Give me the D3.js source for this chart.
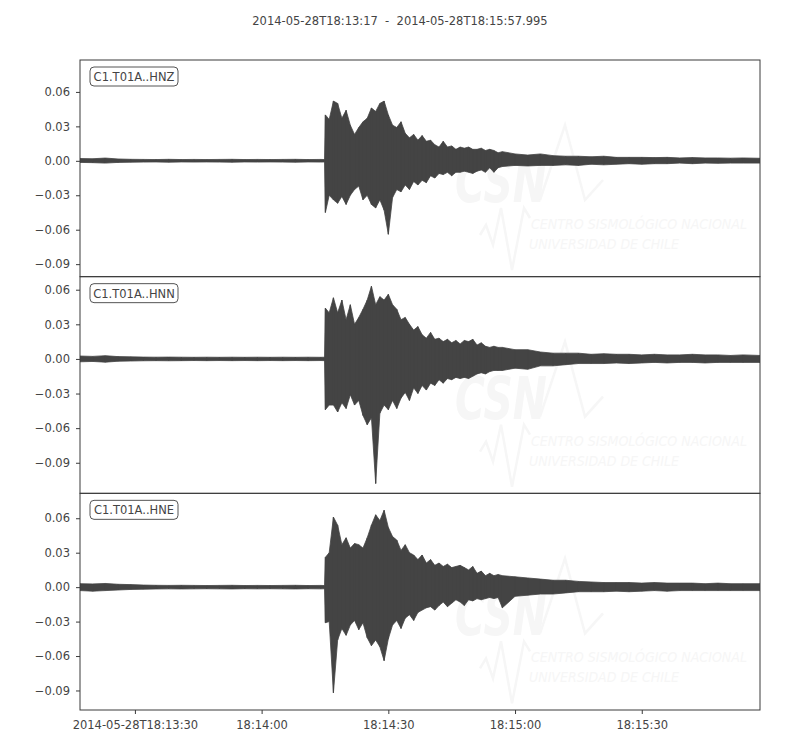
<!DOCTYPE html>
<meta charset="utf-8">
<style>
body { margin: 0; background: #fff; }
text { font-family: "DejaVu Sans", sans-serif; }
</style>
<svg width="800" height="750"></svg>
<script src="https://d3js.org/d3.v7.min.js"></script>
<script>
// ---- data ----
var title = "2014-05-28T18:13:17  -  2014-05-28T18:15:57.995";
var channels = ["C1.T01A..HNZ", "C1.T01A..HNN", "C1.T01A..HNE"];
var startTime = new Date(Date.UTC(2014, 4, 28, 18, 13, 17));
var duration = 160.995; // seconds
var xTickSeconds = [13, 43, 73, 103, 133];
var xTickLabels = ["2014-05-28T18:13:30", "18:14:00", "18:14:30", "18:15:00", "18:15:30"];
var yTicks = [-0.09, -0.06, -0.03, 0, 0.03, 0.06];
var yLimits = [[-0.1009, 0.0878], [-0.1165, 0.0713], [-0.1070, 0.0817]];

// seconds after start, envelope (max / min) of each trace
var times = [0,3,6,9,12,15,18,21,24,27,30,33,36,39,42,45,48,51,54,57,57.9,58.1,
  59,60,61,62,63,64,65,66,67,68,69,70,71,72,73,74,75,76,77,78,79,80,81,82,83,84,85,86,87,88,89,90,
  91,92,93,94,95,96,97,98,99,100,
  103,106,109,112,115,118,121,124,127,130,133,136,139,142,145,148,151,154,157,160.99];

var hnzMax = [0.0020,0.0018,0.0024,0.0016,0.0013,0.0012,0.0011,0.0013,0.0011,0.0012,0.0011,0.0012,0.0013,0.0011,0.0012,0.0011,0.0012,0.0013,0.0011,0.0012,0.0011,
  0.040,
  0.036,0.052,0.050,0.037,0.044,0.031,0.023,0.029,0.034,0.037,0.046,0.043,0.050,0.052,0.040,0.031,0.029,0.034,0.024,0.020,0.023,0.018,
  0.022,0.017,0.018,0.014,0.012,0.017,0.012,0.013,0.010,0.012,0.011,0.012,0.010,0.010,0.011,0.009,0.010,0.009,0.007,0.008,
  0.006,0.005,0.006,0.0045,0.004,0.004,0.0035,0.004,0.003,0.003,0.003,0.0028,0.003,0.0025,0.0028,0.0025,0.0025,0.0023,0.0025,
  0.0022];
var hnzMin = [-0.0014,-0.0016,-0.0020,-0.0014,-0.0012,-0.0011,-0.0010,-0.0012,-0.0010,-0.0011,-0.0010,-0.0011,-0.0012,-0.0010,-0.0011,-0.0010,-0.0011,-0.0012,-0.0010,-0.0011,-0.0010,
  -0.045,
  -0.030,-0.034,-0.037,-0.031,-0.038,-0.030,-0.025,-0.022,-0.034,-0.030,-0.038,-0.041,-0.034,-0.043,-0.064,-0.032,-0.025,-0.027,-0.021,-0.025,-0.018,-0.021,
  -0.017,-0.019,-0.013,-0.015,-0.011,-0.012,-0.010,-0.013,-0.010,-0.010,-0.009,-0.010,-0.011,-0.009,-0.008,-0.010,-0.006,-0.010,-0.006,-0.005,
  -0.004,-0.0045,-0.004,-0.004,-0.0035,-0.004,-0.003,-0.0035,-0.003,-0.0025,-0.003,-0.0025,-0.0025,-0.002,-0.0025,-0.002,-0.0022,-0.002,-0.002,
  -0.002];

var hnnMax = [0.0025,0.0022,0.0028,0.0020,0.0018,0.0016,0.0015,0.0016,0.0015,0.0014,0.0015,0.0014,0.0015,0.0014,0.0015,0.0014,0.0015,0.0014,0.0015,0.0014,0.0015,
  0.044,
  0.040,0.053,0.040,0.051,0.034,0.047,0.030,0.036,0.043,0.051,0.063,0.047,0.054,0.051,0.056,0.047,0.043,0.034,0.036,0.030,0.025,0.028,
  0.021,0.018,0.023,0.017,0.018,0.015,0.017,0.014,0.016,0.013,0.016,0.015,0.017,0.012,0.014,0.011,0.010,0.011,0.010,0.010,
  0.008,0.008,0.006,0.005,0.005,0.005,0.004,0.0045,0.004,0.004,0.0035,0.004,0.0035,0.0035,0.004,0.0035,0.0035,0.003,0.0035,
  0.003];
var hnnMin = [-0.0025,-0.0022,-0.0028,-0.0020,-0.0018,-0.0016,-0.0015,-0.0016,-0.0015,-0.0014,-0.0015,-0.0014,-0.0015,-0.0014,-0.0015,-0.0014,-0.0015,-0.0014,-0.0015,-0.0014,-0.0015,
  -0.044,
  -0.040,-0.040,-0.046,-0.038,-0.043,-0.031,-0.040,-0.036,-0.049,-0.057,-0.051,-0.108,-0.047,-0.040,-0.044,-0.036,-0.043,-0.034,-0.029,-0.036,-0.025,-0.030,
  -0.023,-0.027,-0.021,-0.023,-0.018,-0.021,-0.017,-0.018,-0.016,-0.017,-0.016,-0.017,-0.015,-0.013,-0.012,-0.013,-0.011,-0.010,-0.010,-0.010,
  -0.008,-0.009,-0.006,-0.006,-0.005,-0.004,-0.004,-0.004,-0.0035,-0.004,-0.0035,-0.003,-0.0035,-0.003,-0.003,-0.0035,-0.003,-0.003,-0.003,
  -0.003];

var hneMax = [0.0030,0.0028,0.0032,0.0025,0.0022,0.0018,0.0016,0.0015,0.0016,0.0015,0.0014,0.0015,0.0016,0.0014,0.0015,0.0014,0.0015,0.0016,0.0014,0.0015,0.0014,
  0.026,
  0.030,0.061,0.054,0.037,0.043,0.034,0.038,0.037,0.034,0.043,0.054,0.063,0.058,0.067,0.052,0.044,0.041,0.032,0.037,0.030,0.028,0.024,
  0.028,0.021,0.024,0.019,0.021,0.018,0.020,0.017,0.018,0.019,0.017,0.015,0.018,0.012,0.014,0.010,0.012,0.010,0.011,0.010,
  0.009,0.008,0.007,0.006,0.006,0.005,0.0045,0.004,0.004,0.004,0.0035,0.004,0.0035,0.0035,0.0035,0.003,0.0035,0.003,0.003,
  0.003];
var hneMin = [-0.0030,-0.0035,-0.0030,-0.0025,-0.0020,-0.0018,-0.0016,-0.0015,-0.0016,-0.0015,-0.0014,-0.0015,-0.0016,-0.0014,-0.0015,-0.0014,-0.0015,-0.0016,-0.0014,-0.0015,-0.0014,
  -0.031,
  -0.030,-0.092,-0.046,-0.036,-0.042,-0.033,-0.029,-0.037,-0.031,-0.044,-0.051,-0.046,-0.052,-0.064,-0.045,-0.033,-0.029,-0.036,-0.027,-0.024,-0.029,-0.022,
  -0.020,-0.018,-0.017,-0.020,-0.016,-0.013,-0.017,-0.014,-0.011,-0.013,-0.016,-0.011,-0.012,-0.010,-0.011,-0.010,-0.009,-0.010,-0.009,-0.018,
  -0.008,-0.007,-0.006,-0.006,-0.005,-0.004,-0.004,-0.004,-0.0035,-0.004,-0.0035,-0.003,-0.0035,-0.003,-0.003,-0.003,-0.003,-0.003,-0.003,
  -0.003];

var traceMax = [hnzMax, hnnMax, hneMax];
var traceMin = [hnzMin, hnnMin, hneMin];

// ---- layout ----
var svg = d3.select("svg"),
    margin = {top: 60, right: 40, bottom: 40, left: 80},
    width = +svg.attr("width") - margin.left - margin.right,
    height = +svg.attr("height") - margin.top - margin.bottom,
    panelH = height / channels.length,
    ink = "#444444",
    frame = "#3a3a3a",
    faint = "#f6f6f6";

var toDate = function(s) { return new Date(+startTime + s * 1000); };

var x = d3.scaleUtc()
    .domain([startTime, toDate(duration)])
    .range([0, width]);

svg.append("text")
    .attr("x", 400)
    .attr("y", 25)
    .attr("text-anchor", "middle")
    .style("white-space", "pre")
    .attr("font-size", "11.5px")
    .attr("fill", ink)
    .text(title);

var defs = svg.append("defs");

channels.forEach(function(name, i) {
  var g = svg.append("g")
      .attr("transform", "translate(" + margin.left + "," + (margin.top + i * panelH) + ")");

  var y = d3.scaleLinear()
      .domain(yLimits[i])
      .range([panelH, 0]);

  defs.append("clipPath").attr("id", "clip" + i)
    .append("rect").attr("width", width).attr("height", panelH);

  // faint CSN watermark behind the trace
  var wm = g.append("g");
  wm.append("text")
      .attr("x", 375).attr("y", 142)
      .attr("font-size", "58px")
      .attr("font-weight", "bold")
      .attr("font-style", "italic")
      .attr("textLength", 92)
      .attr("lengthAdjust", "spacingAndGlyphs")
      .attr("fill", faint)
      .text("CSN");
  wm.append("path")
      .attr("d", "M460,140 L485,65 L505,140 L523,120")
      .attr("fill", "none").attr("stroke", faint).attr("stroke-width", 2.5);
  wm.append("path")
      .attr("d", "M400,175 L406,165 L413,185 L421,148 L432,210 L444,148 L450,158")
      .attr("fill", "none").attr("stroke", faint).attr("stroke-width", 2.5);
  wm.append("text")
      .attr("x", 451).attr("y", 169)
      .attr("font-family", "DejaVu Sans Condensed, sans-serif")
      .attr("font-size", "14.5px")
      .attr("font-style", "italic")
      .attr("textLength", 216)
      .attr("lengthAdjust", "spacingAndGlyphs")
      .attr("fill", faint)
      .text("CENTRO SISMOLÓGICO NACIONAL");
  wm.append("text")
      .attr("x", 449).attr("y", 189)
      .attr("font-family", "DejaVu Sans Condensed, sans-serif")
      .attr("font-size", "14.5px")
      .attr("font-style", "italic")
      .attr("textLength", 150)
      .attr("lengthAdjust", "spacingAndGlyphs")
      .attr("fill", faint)
      .text("UNIVERSIDAD DE CHILE");

  var body = g.append("g").attr("clip-path", "url(#clip" + i + ")");

  var pts = times.map(function(t, k) {
    return {t: t, hi: traceMax[i][k], lo: traceMin[i][k]};
  });

  var area = d3.area()
      .x(function(d) { return x(toDate(d.t)); })
      .y0(function(d) { return y(d.lo); })
      .y1(function(d) { return y(d.hi); });

  body.append("path")
      .datum(pts)
      .attr("fill", ink)
      .attr("stroke", ink)
      .attr("stroke-width", 0.8)
      .attr("d", area);

  body.selectAll(".bin")
    .data(pts)
    .enter().append("line")
      .attr("class", "bin")
      .attr("x1", function(d) { return x(toDate(d.t)); })
      .attr("x2", function(d) { return x(toDate(d.t)); })
      .attr("y1", function(d) { return y(d.lo); })
      .attr("y2", function(d) { return y(d.hi); })
      .attr("stroke", ink)
      .attr("stroke-width", 1.2);

  // axes
  var ya = g.append("g")
      .call(d3.axisLeft(y).tickValues(yTicks).tickSize(4).tickPadding(6).tickFormat(d3.format(".2f")));
  ya.select(".domain").remove();
  ya.selectAll("line").attr("stroke", frame);
  ya.selectAll("text").attr("fill", ink).attr("font-size", "11.5px").attr("font-family", "DejaVu Sans, sans-serif");

  if (i === channels.length - 1) {
    var xa = g.append("g")
        .attr("transform", "translate(0," + panelH + ")")
        .call(d3.axisBottom(x)
          .tickValues(xTickSeconds.map(toDate))
          .tickSize(4).tickPadding(7)
          .tickFormat(function(d, k) { return xTickLabels[k]; }));
    xa.select(".domain").remove();
    xa.selectAll("line").attr("stroke", frame);
    xa.selectAll("text").attr("fill", ink).attr("font-size", "11.5px").attr("font-family", "DejaVu Sans, sans-serif");
  }

  g.append("rect")
      .attr("width", width)
      .attr("height", panelH)
      .attr("fill", "none")
      .attr("stroke", frame)
      .attr("stroke-width", 1);

  // channel label box
  var lab = g.append("g").attr("transform", "translate(10,7)");
  lab.append("rect")
      .attr("width", 88).attr("height", 19)
      .attr("rx", 4)
      .attr("fill", "#fff")
      .attr("stroke", "#555")
      .attr("stroke-width", 1);
  lab.append("text")
      .attr("x", 44).attr("y", 14)
      .attr("text-anchor", "middle")
      .attr("font-size", "11.5px")
      .attr("fill", ink)
      .text(name);
});
</script>
